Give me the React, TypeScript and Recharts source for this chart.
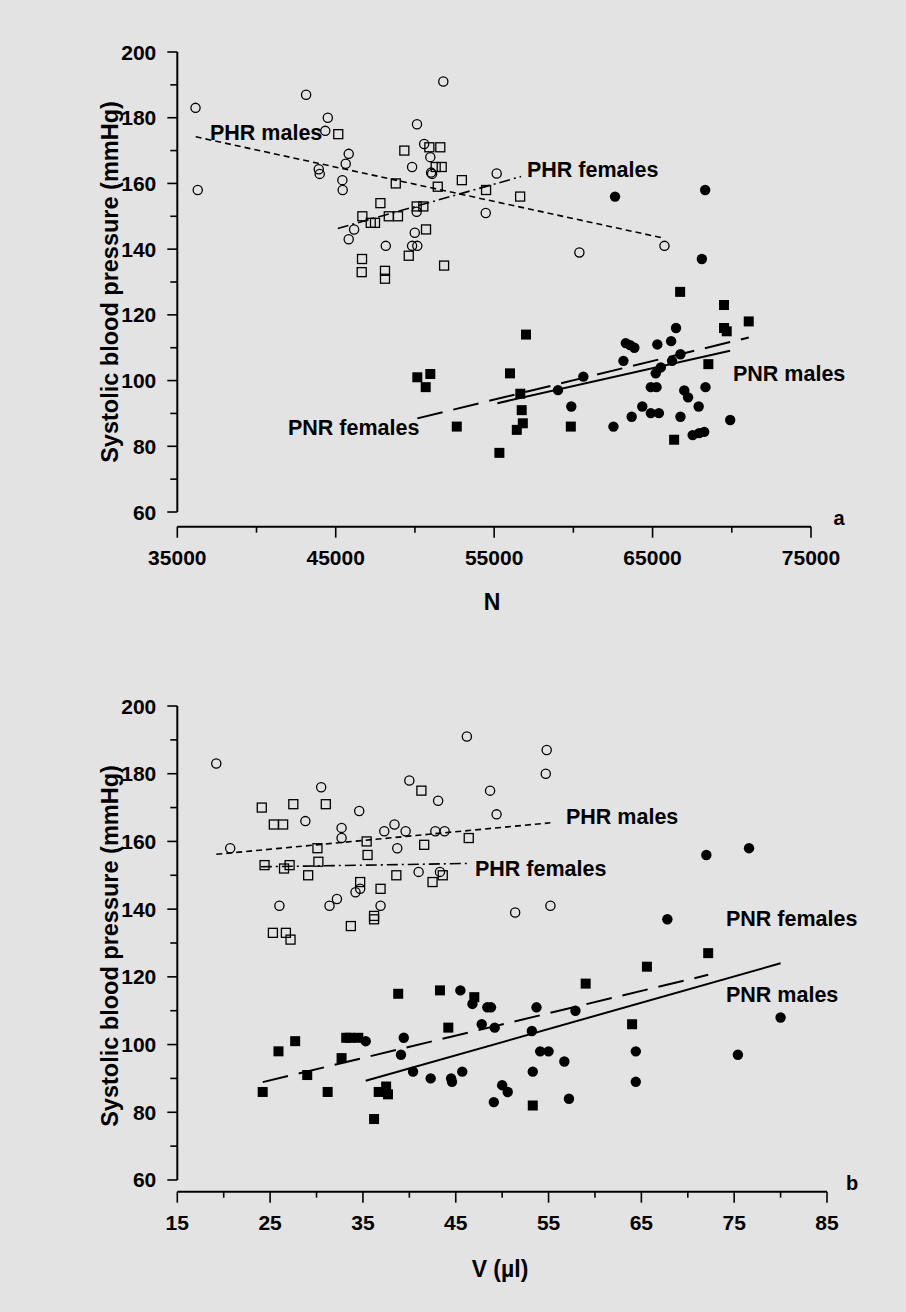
import { ReferenceLine, Scatter, ScatterChart, XAxis, YAxis } from "recharts";

type Pt = [number, number];

// ---- panel a: N vs systolic BP ----
const phrMalesN: Pt[] = [
  [36150, 183], [36290, 158], [43130, 187], [44500, 180], [44340, 176], [45820, 169],
  [45630, 166], [43930, 164.3], [43990, 162.9], [45420, 161], [45440, 158], [51790, 191],
  [50130, 178], [50580, 172], [50970, 168], [49820, 165], [51020, 163.3], [51080, 162.9],
  [55160, 163], [54470, 151], [46160, 146], [45820, 143], [50110, 151.4], [49990, 145],
  [48160, 141], [49820, 141], [50150, 141], [60380, 139], [65750, 141],
];
const phrFemalesN: Pt[] = [
  [45160, 175], [49330, 170], [50910, 171], [51600, 171], [51310, 165], [51690, 165],
  [48790, 160], [51440, 159], [52960, 161], [54490, 158], [56640, 156], [47820, 154],
  [46680, 150], [47210, 148], [47480, 148], [48350, 150], [48930, 150], [50110, 153],
  [50530, 153], [50700, 146], [49610, 138], [46660, 137], [46640, 133], [48110, 133.4],
  [48110, 131], [51840, 135],
];
const pnrMalesN: Pt[] = [
  [62630, 156], [68320, 158], [68110, 137], [66480, 116], [66170, 112], [65300, 111],
  [63310, 111.4], [63580, 110.8], [63850, 110], [63160, 106], [66760, 108], [66230, 106],
  [65520, 104], [65200, 102.2], [60630, 101.2], [59030, 97.1], [59870, 92.1], [62530, 86],
  [63680, 89], [64350, 92.1], [64890, 98], [65250, 98], [64890, 90.1], [65400, 90.1],
  [66760, 89], [67000, 97], [67240, 94.9], [67910, 92.1], [68340, 98], [67530, 83.4],
  [67940, 84], [68260, 84.4], [69900, 88],
];
const pnrFemalesN: Pt[] = [
  [66740, 127], [69510, 123], [71070, 118], [69510, 116], [69680, 115], [57010, 114],
  [68520, 105], [56000, 102.2], [50150, 101], [50970, 102], [50680, 98], [56650, 96],
  [56740, 91], [56810, 87], [56430, 85], [52640, 86], [55330, 78], [59840, 86], [66360, 82],
];
const fitPhrMalesN: Pt[] = [[36160, 174.2], [65750, 143.3]];
const fitPhrFemalesN: Pt[] = [[45130, 146.3], [56700, 162.1]];
const fitPnrFemalesN: Pt[] = [[50150, 88.5], [71070, 113.1]];
const fitPnrMalesN: Pt[] = [[55200, 93.1], [69890, 109.1]];

// ---- panel b: V (µl) vs systolic BP ----
const phrMalesV: Pt[] = [
  [19.2, 183], [20.7, 158], [30.5, 176], [28.8, 166], [34.6, 169], [32.7, 164], [32.7, 161],
  [37.3, 163], [38.4, 165], [39.6, 163], [38.7, 158], [40.0, 178], [43.1, 172], [42.8, 163],
  [43.8, 163], [46.2, 191], [48.7, 175], [49.4, 168], [54.8, 187], [54.7, 180], [41.0, 151],
  [43.3, 151], [34.2, 145], [34.7, 146], [32.2, 143], [31.4, 141], [36.9, 141], [26.0, 141],
  [51.4, 139], [55.2, 141],
];
const phrFemalesV: Pt[] = [
  [24.1, 170], [27.5, 171], [31.0, 171], [25.4, 165], [26.4, 165], [41.3, 175], [30.1, 158],
  [35.4, 160], [35.5, 156], [41.6, 159], [46.4, 161], [24.4, 153], [26.5, 152], [27.1, 153],
  [30.2, 154], [29.1, 150], [38.6, 150], [42.5, 148], [43.6, 150], [34.7, 148], [36.9, 146],
  [36.2, 138], [36.2, 137], [33.7, 135], [25.3, 133], [26.7, 133], [27.2, 131],
];
const pnrMalesV: Pt[] = [
  [35.3, 101], [39.4, 102], [39.1, 97], [45.5, 116], [46.8, 112], [48.4, 111], [48.8, 111],
  [47.8, 106], [49.2, 105], [53.7, 111], [53.2, 104], [54.1, 98], [55.0, 98], [53.3, 92],
  [40.4, 92], [42.3, 90], [44.5, 90], [44.6, 89], [45.7, 92], [50.0, 88], [50.6, 86],
  [49.1, 83], [57.9, 110], [56.7, 95], [57.2, 84], [64.4, 98], [64.4, 89], [75.4, 97],
  [80.0, 108], [72.0, 156], [76.6, 158], [67.8, 137],
];
const pnrFemalesV: Pt[] = [
  [24.2, 86], [25.9, 98], [27.7, 101], [29.0, 91], [31.2, 86], [32.7, 96], [33.2, 102],
  [33.6, 102], [34.5, 102], [38.8, 115], [43.3, 116], [44.2, 105], [47.0, 114], [36.7, 86],
  [37.5, 87.6], [37.7, 85.3], [36.2, 78], [53.3, 82], [59.0, 118], [65.6, 123], [72.2, 127],
  [64.0, 106],
];
const fitPhrMalesV: Pt[] = [[19.2, 156.2], [55.2, 165.5]];
const fitPhrFemalesV: Pt[] = [[24.0, 152.5], [46.5, 153.5]];
const fitPnrFemalesV: Pt[] = [[24.2, 88.9], [72.2, 120.6]];
const fitPnrMalesV: Pt[] = [[35.3, 89.3], [80.0, 124.0]];

// ticks
const nMajor = [35000, 45000, 55000, 65000, 75000];
const nMinor = [40000, 50000, 60000, 70000];
const vMajor = [15, 25, 35, 45, 55, 65, 75, 85];
const vMinor = [20, 30, 40, 50, 60, 70, 80];
const bpMajor = [60, 80, 100, 120, 140, 160, 180, 200];
const bpMinor = [70, 90, 110, 130, 150, 170, 190];

const FONT = '"Liberation Sans", Arial, Helvetica, sans-serif';
const BG = "#e3e3e3";

const toXY = (pts: Pt[]) => pts.map(([x, y]) => ({ x, y }));
const sorted = (a: number[], b: number[]) => [...a, ...b].sort((p, q) => p - q);

const openCircle = (p: any) => (
  <circle cx={p.cx} cy={p.cy} r={4.6} fill="none" stroke="#000" strokeWidth={1.3} />
);
const openSquare = (p: any) => (
  <rect x={p.cx - 4.5} y={p.cy - 4.5} width={9} height={9} fill="none" stroke="#000" strokeWidth={1.3} />
);
const dot = (p: any) => <circle cx={p.cx} cy={p.cy} r={5.2} fill="#000" />;
const block = (p: any) => <rect x={p.cx - 5} y={p.cy - 5} width={10} height={10} fill="#000" />;

function xTick(major: number[]) {
  return (p: any) => {
    const v = p.payload.value;
    const big = major.includes(v);
    return (
      <g>
        <line x1={p.x} x2={p.x} y1={p.y} y2={p.y + (big ? 11 : 6)} stroke="#000" strokeWidth={1.6} />
        {big && (
          <text x={p.x} y={p.y + 31} textAnchor="middle" dominantBaseline="central"
            fontFamily={FONT} fontWeight={700} fontSize={21} fill="#000">
            {v}
          </text>
        )}
      </g>
    );
  };
}

function yTick(major: number[]) {
  return (p: any) => {
    const v = p.payload.value;
    const big = major.includes(v);
    return (
      <g>
        <line x1={p.x - (big ? 10 : 7)} x2={p.x} y1={p.y} y2={p.y} stroke="#000" strokeWidth={1.6} />
        {big && (
          <text x={p.x - 21} y={p.y} textAnchor="end" dominantBaseline="central"
            fontFamily={FONT} fontWeight={700} fontSize={21} fill="#000">
            {v}
          </text>
        )}
      </g>
    );
  };
}

interface PanelProps {
  height: number;
  margin: { top: number; right: number; bottom: number; left: number };
  xDomain: [number, number];
  yDomain: [number, number];
  xMajor: number[];
  xMinor: number[];
  open1: Pt[];
  open2: Pt[];
  fill1: Pt[];
  fill2: Pt[];
  fits: Pt[][];
}

function Panel(props: PanelProps) {
  const { xDomain, yDomain } = props;
  const [fPhrM, fPhrF, fPnrF, fPnrM] = props.fits;
  const seg = (f: Pt[]) => f.map(([x, y]) => ({ x, y }));
  return (
    <ScatterChart width={906} height={props.height} margin={props.margin}>
      <XAxis
        type="number"
        dataKey="x"
        domain={xDomain}
        ticks={sorted(props.xMajor, props.xMinor)}
        interval={0}
        tick={xTick(props.xMajor)}
        tickLine={false}
        tickSize={0}
        tickMargin={0}
        axisLine={{ stroke: "#000", strokeWidth: 2 }}
        allowDataOverflow
      />
      <YAxis
        type="number"
        dataKey="y"
        domain={yDomain}
        ticks={sorted(bpMajor, bpMinor)}
        interval={0}
        tick={yTick(bpMajor)}
        tickLine={false}
        tickSize={0}
        tickMargin={0}
        axisLine={false}
        width={60}
        allowDataOverflow
      />
      <ReferenceLine
        segment={[{ x: xDomain[0], y: 60 }, { x: xDomain[0], y: 200 }]}
        stroke="#000"
        strokeWidth={2}
        ifOverflow="visible"
      />
      <ReferenceLine segment={seg(fPhrM)} stroke="#000" strokeWidth={1.6} strokeDasharray="6 4" />
      <ReferenceLine segment={seg(fPhrF)} stroke="#000" strokeWidth={1.6} strokeDasharray="11 4 2 4" />
      <ReferenceLine segment={seg(fPnrF)} stroke="#000" strokeWidth={2} strokeDasharray="26 11" />
      <ReferenceLine segment={seg(fPnrM)} stroke="#000" strokeWidth={2} />
      <Scatter data={toXY(props.open1)} shape={openCircle} isAnimationActive={false} />
      <Scatter data={toXY(props.open2)} shape={openSquare} isAnimationActive={false} />
      <Scatter data={toXY(props.fill1)} shape={dot} isAnimationActive={false} />
      <Scatter data={toXY(props.fill2)} shape={block} isAnimationActive={false} />
    </ScatterChart>
  );
}

const labelStyle = { fontFamily: FONT, fontWeight: 700, fontSize: 21.5, fill: "#000" } as const;
const yTitle = "Systolic blood pressure (mmHg)";

export default function App() {
  return (
    <div style={{ position: "relative", width: 906, height: 1312, background: BG, overflow: "hidden" }}>
      <style>{`html,body{margin:0;padding:0;background:${BG};}`}</style>
      <div style={{ position: "absolute", left: 0, top: 0 }}>
        <Panel
          height={660}
          margin={{ top: 52, right: 95, bottom: 103.3, left: 117.3 }}
          xDomain={[35000, 75000]}
          yDomain={[55.53, 200]}
          xMajor={nMajor}
          xMinor={nMinor}
          open1={phrMalesN}
          open2={phrFemalesN}
          fill1={pnrMalesN}
          fill2={pnrFemalesN}
          fits={[fitPhrMalesN, fitPhrFemalesN, fitPnrFemalesN, fitPnrMalesN]}
        />
      </div>
      <div style={{ position: "absolute", left: 0, top: 660 }}>
        <Panel
          height={652}
          margin={{ top: 46, right: 79, bottom: 90.3, left: 117.3 }}
          xDomain={[15, 85]}
          yDomain={[56.54, 200]}
          xMajor={vMajor}
          xMinor={vMinor}
          open1={phrMalesV}
          open2={phrFemalesV}
          fill1={pnrMalesV}
          fill2={pnrFemalesV}
          fits={[fitPhrMalesV, fitPhrFemalesV, fitPnrFemalesV, fitPnrMalesV]}
        />
      </div>
      <svg width={906} height={1312} style={{ position: "absolute", left: 0, top: 0, pointerEvents: "none" }}>
        {/* panel a */}
        <text x={210} y={140} {...labelStyle}>PHR males</text>
        <text x={527} y={176.5} {...labelStyle}>PHR females</text>
        <text x={733} y={380.5} {...labelStyle}>PNR males</text>
        <text x={288} y={435} {...labelStyle}>PNR females</text>
        <text x={839} y={525} textAnchor="middle" {...labelStyle} fontSize={20}>a</text>
        <text x={492} y={610} textAnchor="middle" {...labelStyle} fontSize={23}>N</text>
        <text x={118} y={282} textAnchor="middle" transform="rotate(-90 118 282)" {...labelStyle} fontSize={23.5}>
          {yTitle}
        </text>
        {/* panel b */}
        <text x={566} y={824} {...labelStyle}>PHR males</text>
        <text x={475} y={876} {...labelStyle}>PHR females</text>
        <text x={726} y={926} {...labelStyle}>PNR females</text>
        <text x={726} y={1001.5} {...labelStyle}>PNR males</text>
        <text x={852} y={1190} textAnchor="middle" {...labelStyle} fontSize={20}>b</text>
        <text x={500} y={1277} textAnchor="middle" {...labelStyle} fontSize={23}>V (µl)</text>
        <text x={118} y={946} textAnchor="middle" transform="rotate(-90 118 946)" {...labelStyle} fontSize={23.5}>
          {yTitle}
        </text>
      </svg>
    </div>
  );
}
